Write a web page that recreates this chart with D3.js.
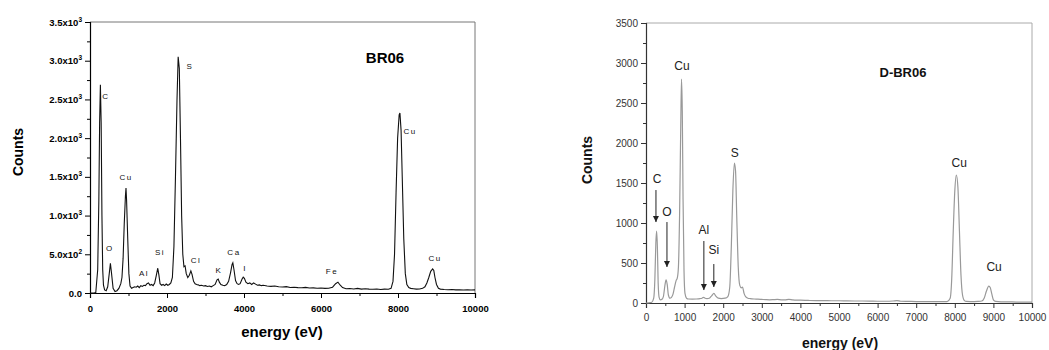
<!DOCTYPE html>
<html><head><meta charset="utf-8">
<script src="https://cdn.jsdelivr.net/npm/d3@7/dist/d3.min.js"></script>
<style>body{margin:0;background:#fff}svg{display:block}text{font-family:"Liberation Sans",Arial,sans-serif}</style>
</head><body><svg id="c" width="1049" height="350"></svg>
<script>
// ---------- DATA ----------
const leftEnergy = [0,100,150,200,230,250,270,290,310,330,350,380,420,460,500,530,560,600,650,700,750,800,830,860,890,920,935,950,980,1010,1040,1080,1120,1160,1200,1240,1280,1320,1360,1400,1440,1480,1520,1560,1600,1640,1680,1720,1760,1790,1820,1860,1900,1940,1980,2020,2060,2100,2140,2180,2220,2260,2290,2320,2350,2380,2410,2440,2470,2500,2540,2580,2620,2650,2690,2730,2770,2810,2850,2900,2950,3000,3050,3100,3150,3200,3250,3300,3330,3360,3400,3450,3500,3550,3600,3650,3690,3710,3740,3780,3820,3860,3900,3950,3980,4010,4050,4100,4150,4200,4250,4300,4350,4400,4450,4500,4600,4700,4800,4900,5000,5100,5200,5300,5400,5500,5600,5700,5800,5900,6000,6100,6200,6300,6380,6440,6500,6560,6650,6750,6850,6950,7050,7150,7250,7350,7450,7550,7650,7750,7820,7870,7910,7950,7990,8030,8050,8080,8110,8150,8190,8230,8280,8330,8400,8480,8560,8640,8700,8750,8800,8850,8900,8930,8960,9000,9050,9100,9200,9300,9400,9500,9600,9700,9800,9900,10000];
const leftCounts = [0,0,5,300,1200,2200,2690,2200,1000,300,100,40,30,80,250,385,250,60,20,30,60,120,200,450,900,1250,1356,1200,700,250,90,60,70,80,75,90,70,95,85,100,95,120,130,100,110,95,130,220,320,230,120,100,110,95,115,100,110,130,200,600,1500,2500,3050,2900,2000,1000,500,340,350,250,200,230,285,240,150,120,110,105,95,100,90,95,85,90,80,95,110,170,180,140,110,100,95,110,150,260,370,390,300,160,120,110,120,180,205,190,140,120,130,110,130,115,100,105,95,100,90,85,90,80,78,82,72,75,70,68,72,65,66,62,64,60,62,75,120,140,100,70,55,58,52,60,50,55,50,48,52,45,50,48,60,150,500,1300,2000,2300,2325,2100,1500,700,250,110,70,60,55,50,52,60,80,130,200,280,310,290,200,110,60,50,45,42,45,40,42,38,40,38,40];

const rightEnergy = [0,100,150,200,230,255,275,295,315,340,370,410,450,490,520,550,580,620,660,700,740,780,810,840,870,900,920,940,960,985,1010,1050,1100,1200,1300,1400,1450,1490,1530,1580,1640,1700,1760,1810,1870,1950,2050,2120,2170,2210,2250,2290,2320,2350,2390,2430,2470,2500,2540,2580,2640,2700,2800,2900,3000,3100,3200,3300,3400,3500,3600,3700,3800,3900,4000,4200,4400,4600,4800,5000,5200,5400,5600,5800,6000,6200,6400,6500,6600,6800,7000,7200,7400,7600,7800,7880,7920,7960,8000,8040,8080,8120,8160,8200,8250,8300,8400,8500,8600,8700,8760,8820,8880,8920,8960,9000,9060,9200,9400,9600,9800,10000];
const rightCounts = [0,5,10,60,300,750,900,700,250,70,40,45,80,220,290,230,100,60,70,110,200,280,310,450,1100,2200,2800,2400,1300,400,120,60,50,48,50,55,60,70,60,55,60,90,120,85,60,55,60,80,200,700,1400,1750,1650,1100,450,220,190,200,120,80,60,55,50,48,45,42,40,42,45,40,38,45,38,35,35,32,30,30,28,28,26,25,25,24,22,22,25,30,22,20,18,18,17,16,18,60,300,900,1400,1600,1450,900,350,100,30,20,18,18,20,25,60,150,212,190,110,40,20,15,14,12,12,10];

const leftYTicks = [0,500,1000,1500,2000,2500,3000,3500];
const leftYTickMantissa = ["0.0","5.0x10","1.0x10","1.5x10","2.0x10","2.5x10","3.0x10","3.5x10"];
const leftYTickExponent = ["","2","3","3","3","3","3","3"];
const leftXTicks = [0,2000,4000,6000,8000,10000];
const rightYTicks = [0,500,1000,1500,2000,2500,3000,3500];
const rightXTicks = [0,1000,2000,3000,4000,5000,6000,7000,8000,9000,10000];

// peak labels: [text, energy, counts]
const leftPeakLabels = [["C",415,2545],["S",2597,2933],["Cu",8312,2093],["Cu",935,1499],["O",519,581],["Al",1403,258],["Si",1818,530],["Cl",2753,426],["K",3351,297],["Ca",3740,530],["I",4026,323],["Fe",6286,284],["Cu",8961,452]];
const rightPeakLabels = [["Cu",930,2962],["S",2300,1875],["C",284,1550],["O",543,1138],["Al",1499,913],["Si",1757,663],["Cu",8114,1750],["Cu",9018,450]];
// arrows: [energy, fromCounts, toCounts]
const rightArrows = [[258,1412,1012],[543,1012,450],[1499,775,162],[1757,487,200]];

// ---------- DRAW ----------
const svg = d3.select("#c");
const defs = svg.append("defs");
defs.append("marker").attr("id","ah").attr("viewBox","0 0 10 10").attr("refX",10).attr("refY",5)
  .attr("markerWidth",6).attr("markerHeight",8).attr("markerUnits","userSpaceOnUse").attr("orient","auto")
  .append("path").attr("d","M0,0 L10,5 L0,10 Z").attr("fill","#222");

// Left panel
const L = {x0:90,x1:475,y0:293,y1:22};
const lx = d3.scaleLinear().domain([0,10000]).range([L.x0,L.x1]);
const ly = d3.scaleLinear().domain([0,3500]).range([L.y0,L.y1]);
const gl = svg.append("g");
gl.append("line").attr("x1",L.x0).attr("x2",L.x1).attr("y1",L.y1).attr("y2",L.y1).attr("stroke","#777");
gl.append("line").attr("x1",L.x1).attr("x2",L.x1).attr("y1",L.y1).attr("y2",L.y0).attr("stroke","#777");
gl.append("g").attr("transform",`translate(${L.x0},0)`).call(d3.axisLeft(ly).tickValues(d3.range(250,3500,500)).tickSize(3).tickFormat(""))
  .call(g=>g.select(".domain").remove()).selectAll("line").attr("stroke","#000");
gl.append("g").attr("transform",`translate(0,${L.y0})`).call(d3.axisBottom(lx).tickValues(d3.range(1000,10000,2000)).tickSize(3).tickFormat(""))
  .call(g=>g.select(".domain").remove()).selectAll("line").attr("stroke","#000");
const lya = gl.append("g").attr("transform",`translate(${L.x0},0)`).call(d3.axisLeft(ly).tickValues(leftYTicks).tickSize(5).tickPadding(3).tickFormat(""));
lya.select(".domain").attr("stroke","#000").attr("stroke-width",1.2);
lya.selectAll(".tick text").each(function(d,i){
  const t=d3.select(this).attr("font-size",9.5).attr("font-weight","bold").attr("fill","#000").text(leftYTickMantissa[i]);
  if(leftYTickExponent[i]) t.append("tspan").attr("font-size",6.5).attr("dy",-4).text(leftYTickExponent[i]);
});
const lxa = gl.append("g").attr("transform",`translate(0,${L.y0})`).call(d3.axisBottom(lx).tickValues(leftXTicks).tickSize(5).tickPadding(7).tickFormat(d3.format("d")));
lxa.select(".domain").attr("stroke","#000").attr("stroke-width",1.2);
lxa.selectAll("text").attr("font-size",9.5).attr("font-weight","bold").attr("fill","#000");
gl.append("path").datum(d3.zip(leftEnergy,leftCounts)).attr("fill","none").attr("stroke","#111").attr("stroke-width",1.1)
  .attr("d",d3.line().x(d=>lx(d[0])).y(d=>ly(d[1])));
gl.selectAll(".pl").data(leftPeakLabels).join("text").attr("x",d=>lx(d[1])).attr("y",d=>ly(d[2])).attr("dy","0.35em")
  .attr("text-anchor","middle").attr("font-size",8).attr("letter-spacing",1.5).attr("fill","#111").text(d=>d[0]);
gl.append("text").attr("x",385).attr("y",63).attr("text-anchor","middle").attr("font-size",15).attr("font-weight","bold")
  .attr("font-family","DejaVu Sans").text("BR06");
gl.append("text").attr("transform","translate(23,152) rotate(-90)").attr("text-anchor","middle").attr("font-size",14).attr("font-weight","bold").text("Counts");
gl.append("text").attr("x",282).attr("y",337).attr("text-anchor","middle").attr("font-size",15).attr("font-weight","bold").text("energy (eV)");

// Right panel
const R = {x0:646,x1:1032,y0:303,y1:23};
const rx = d3.scaleLinear().domain([0,10000]).range([R.x0,R.x1]);
const ry = d3.scaleLinear().domain([0,3500]).range([R.y0,R.y1]);
const gr = svg.append("g");
gr.append("line").attr("x1",R.x0).attr("x2",R.x1).attr("y1",R.y1).attr("y2",R.y1).attr("stroke","#aaa");
gr.append("line").attr("x1",R.x1).attr("x2",R.x1).attr("y1",R.y1).attr("y2",R.y0).attr("stroke","#aaa");
gr.append("g").attr("transform",`translate(${R.x0},0)`).call(d3.axisLeft(ry).tickValues(d3.range(250,3500,500)).tickSize(3).tickFormat(""))
  .call(g=>g.select(".domain").remove()).selectAll("line").attr("stroke","#333");
gr.append("g").attr("transform",`translate(0,${R.y0})`).call(d3.axisBottom(rx).tickValues(d3.range(500,10000,1000)).tickSize(3).tickFormat(""))
  .call(g=>g.select(".domain").remove()).selectAll("line").attr("stroke","#333");
const rya = gr.append("g").attr("transform",`translate(${R.x0},0)`).call(d3.axisLeft(ry).tickValues(rightYTicks).tickSize(5).tickPadding(3).tickFormat(d3.format("d")));
rya.select(".domain").attr("stroke","#333").attr("stroke-width",1.2);
rya.selectAll("line").attr("stroke","#333");
rya.selectAll("text").attr("font-size",10).attr("fill","#333");
const rxa = gr.append("g").attr("transform",`translate(0,${R.y0})`).call(d3.axisBottom(rx).tickValues(rightXTicks).tickSize(5).tickPadding(6).tickFormat(d3.format("d")));
rxa.select(".domain").attr("stroke","#333").attr("stroke-width",1.2);
rxa.selectAll("line").attr("stroke","#333");
rxa.selectAll("text").attr("font-size",10).attr("fill","#333");
gr.append("path").datum(d3.zip(rightEnergy,rightCounts)).attr("fill","none").attr("stroke","#999").attr("stroke-width",1.2)
  .attr("d",d3.line().curve(d3.curveMonotoneX).x(d=>rx(d[0])).y(d=>ry(d[1])));
gr.selectAll(".pl").data(rightPeakLabels).join("text").attr("x",d=>rx(d[1])).attr("y",d=>ry(d[2])).attr("dy","0.35em")
  .attr("text-anchor","middle").attr("font-size",12).attr("fill","#222").text(d=>d[0]);
gr.selectAll(".ar").data(rightArrows).join("line").attr("x1",d=>rx(d[0])).attr("x2",d=>rx(d[0]))
  .attr("y1",d=>ry(d[1])).attr("y2",d=>ry(d[2])).attr("stroke","#222").attr("stroke-width",1).attr("marker-end","url(#ah)");
gr.append("text").attr("x",903).attr("y",77).attr("text-anchor","middle").attr("font-size",13).attr("font-weight","bold").attr("fill","#111").text("D-BR06");
gr.append("text").attr("transform","translate(592,160) rotate(-90)").attr("text-anchor","middle").attr("font-size",14).attr("font-weight","bold").attr("fill","#111").text("Counts");
gr.append("text").attr("x",840).attr("y",348).attr("text-anchor","middle").attr("font-size",14).attr("font-weight","bold").attr("fill","#111").text("energy (eV)");
</script></body></html>
